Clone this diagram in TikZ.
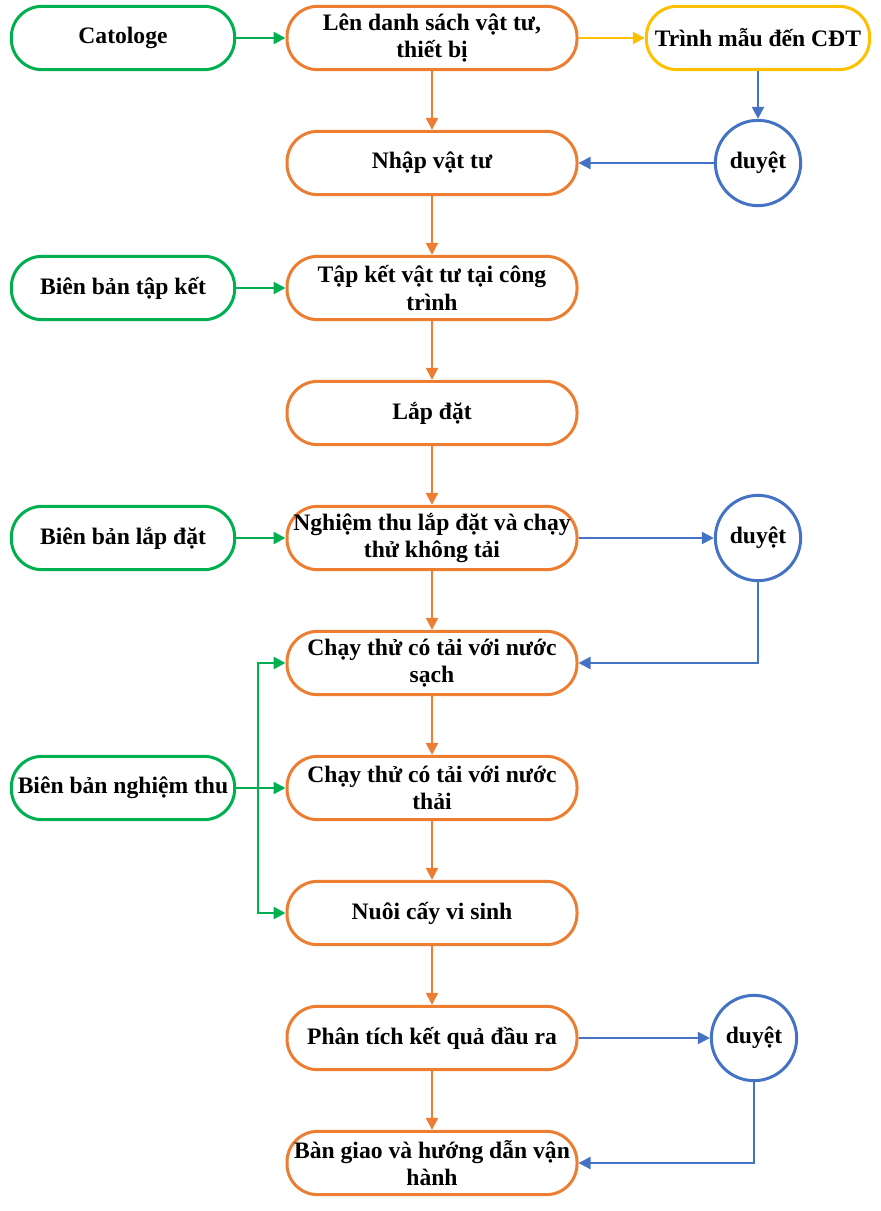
\documentclass[tikz,border=0pt]{standalone}
\usepackage{fontspec}
\setmainfont{Liberation Serif}
\usetikzlibrary{arrows.meta, positioning, shapes.geometric}
\definecolor{stepor}{RGB}{237,125,49}
\definecolor{docgr}{RGB}{0,176,80}
\definecolor{smpyl}{RGB}{255,192,0}
\definecolor{okbl}{RGB}{68,114,196}

\begin{document}
\begin{tikzpicture}[x=0.75pt, y=-0.75pt,
                every node/.style={font=\fontsize{17.7}{20.5}\selectfont\bfseries, align=center, inner sep=0pt},
                stepbox/.style={rectangle, draw=stepor, line width=2.25pt, rounded corners=23pt, minimum width=217.5pt, minimum height=47.5pt, fill=white},
                docbox/.style={stepbox, draw=docgr, minimum width=167.5pt},
                smpbox/.style={stepbox, draw=smpyl, minimum width=167.5pt},
                okcirc/.style={circle, draw=okbl, line width=2.25pt, minimum size=64pt, fill=white},
                flow/.style={line width=1.8pt, -{Triangle[length=9pt, width=9pt]}}]
                \useasboundingbox (0,0) rectangle (881,1211);

                % main steps
                \node[stepbox] (list) at (432,38) {Lên danh sách vật tư,\\thiết bị};
                \node[stepbox] (import) at (432,163) {Nhập vật tư};
                \node[stepbox] (gather) at (432,288) {Tập kết vật tư tại công\\trình};
                \node[stepbox] (install) at (432,413) {Lắp đặt};
                \node[stepbox] (noload) at (432,538) {Nghiệm thu lắp đặt và chạy\\thử không tải};
                \node[stepbox] (clean) at (432,663) {Chạy thử có tải với nước\\sạch};
                \node[stepbox] (waste) at (432,788) {Chạy thử có tải với nước\\thải};
                \node[stepbox] (culture) at (432,913) {Nuôi cấy vi sinh};
                \node[stepbox] (result) at (432,1038) {Phân tích kết quả đầu ra};
                \node[stepbox] (handover) at (432,1163) {Bàn giao và hướng dẫn vận\\hành};

                % documents
                \node[docbox] (catalog) at (123,38) {Catologe};
                \node[docbox] (rpgather) at (123,288) {Biên bản tập kết};
                \node[docbox] (rpinstall) at (123,538) {Biên bản lắp đặt};
                \node[docbox] (rpaccept) at (123,788) {Biên bản nghiệm thu};

                \node[smpbox] (sample) at (758,38) {Trình mẫu đến CĐT};

                % approvals
                \node[okcirc] (ok1) at (758,163) {duyệt};
                \node[okcirc] (ok2) at (758,538) {duyệt};
                \node[okcirc] (ok3) at (754,1038) {duyệt};

                \foreach \a/\b in {list/import, import/gather, gather/install, install/noload,
                                   noload/clean, clean/waste, waste/culture, culture/result, result/handover}
                    \draw[flow, stepor] (\a) -- (\b);

                \draw[flow, docgr] (catalog) -- (list);
                \draw[flow, docgr] (rpgather) -- (gather);
                \draw[flow, docgr] (rpinstall) -- (noload);
                \draw[flow, docgr] (rpaccept) -- (waste);
                \coordinate (split) at (258,788);
                \draw[flow, docgr] (split) |- (clean.west);
                \draw[flow, docgr] (split) |- (culture.west);

                \draw[flow, smpyl] (list) -- (sample);
                \draw[flow, okbl] (sample) -- (ok1);
                \draw[flow, okbl] (ok1) -- (import);
                \draw[flow, okbl] (noload) -- (ok2);
                \draw[flow, okbl] (ok2.south) |- (clean.east);
                \draw[flow, okbl] (result) -- (ok3);
                \draw[flow, okbl] (ok3.south) |- (handover.east);
            \end{tikzpicture}
\end{document}
